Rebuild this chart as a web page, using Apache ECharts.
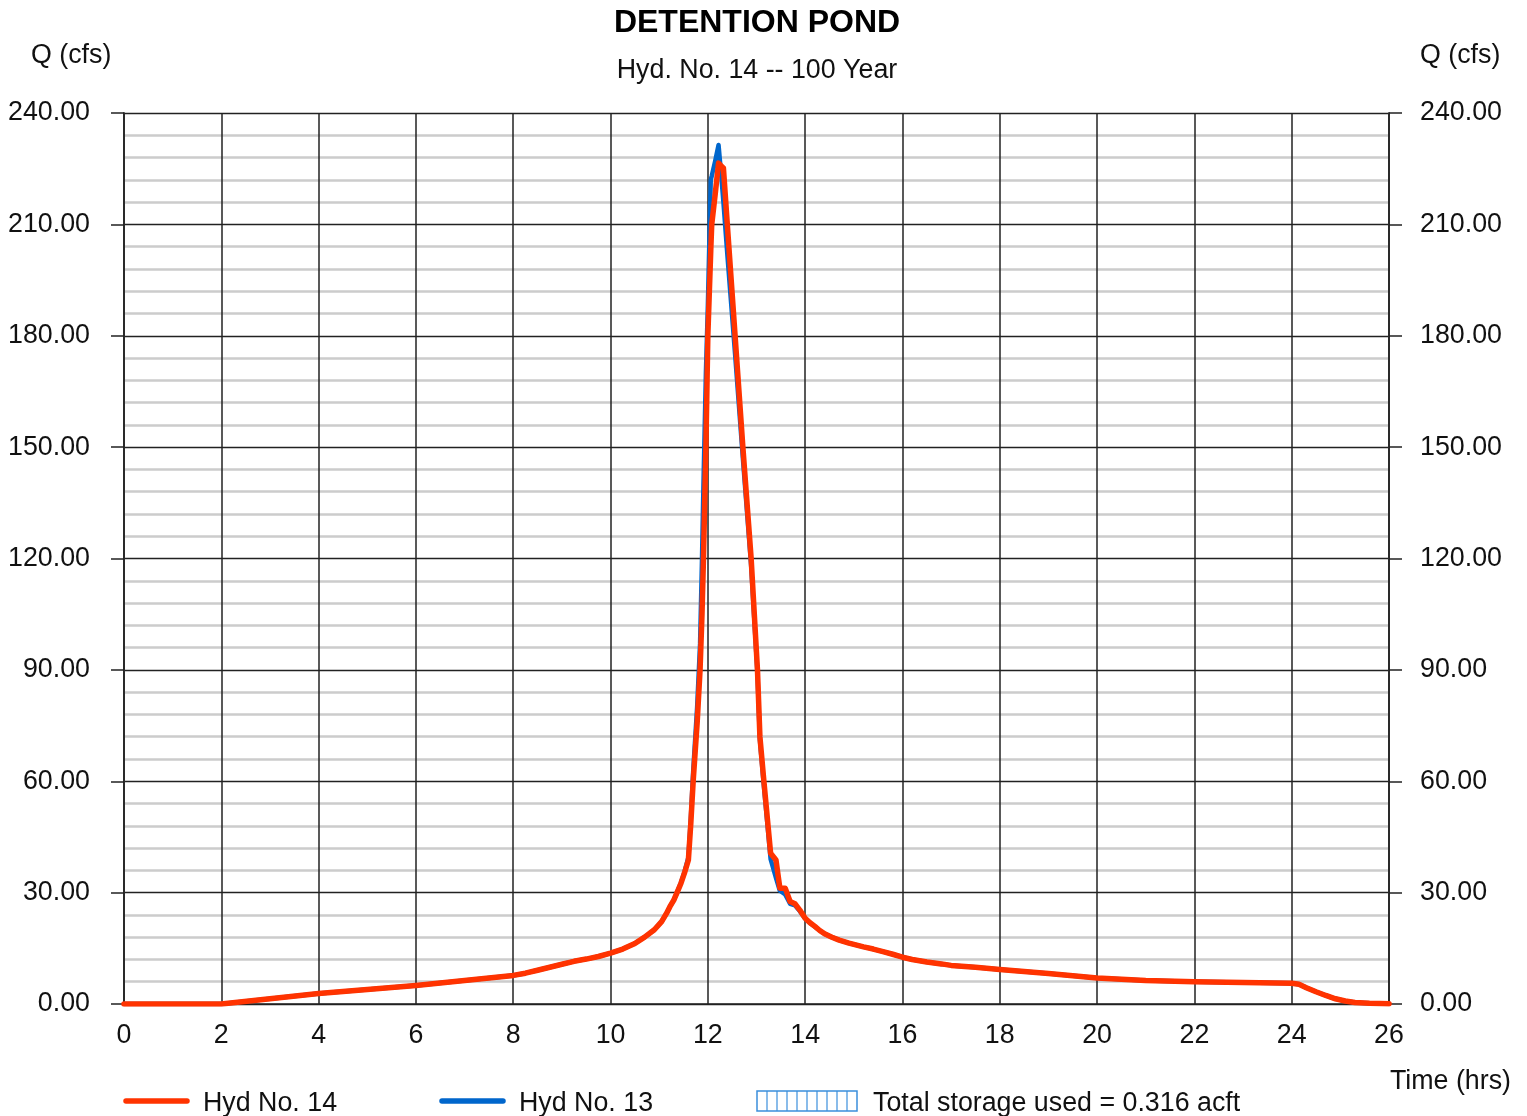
<!DOCTYPE html>
<html>
<head>
<meta charset="utf-8">
<script src="https://cdn.jsdelivr.net/npm/echarts@6/dist/echarts.min.js"></script>
<style>
  html, body { margin: 0; padding: 0; background: #ffffff; }
  #chart { width: 1527px; height: 1116px; }
</style>
</head>
<body>
<div id="chart"></div>
<script>
// Time axis (hrs) shared by both hydrographs
const hours = [
  0, 2, 3, 4, 5, 6, 7, 8, 8.25, 8.5, 8.75, 9, 9.25, 9.5, 9.75, 10, 10.25, 10.5, 10.7, 10.9, 11.05, 11.15,
  11.22, 11.3, 11.38, 11.45, 11.52, 11.6, 11.65, 11.7,
  11.78, 11.84, 11.88, 11.91, 11.96, 12.0, 12.06, 12.08, 12.15, 12.22, 12.27, 12.32, 12.4, 12.56, 12.72, 12.89,
  13.02, 13.07, 13.15, 13.29, 13.4, 13.48, 13.59, 13.69, 13.79, 13.89, 14.0, 14.1, 14.2, 14.3, 14.4, 14.55, 14.7,
  14.9, 15.2, 15.4, 15.6, 15.8, 16.0, 16.2, 16.5, 16.8, 17.0, 17.5, 18.0, 19.0, 20.0, 21.0, 22.0, 23.0, 24.0,
  24.15, 24.3, 24.5, 24.7, 24.9, 25.1, 25.3, 25.6, 26.0
];

// Hyd No. 14 - pond outflow (cfs)
const hyd14 = [
  0, 0, 1.4, 2.8, 3.9, 5.0, 6.3, 7.7, 8.3, 9.1, 9.9, 10.7, 11.5, 12.1, 12.8, 13.7, 14.8, 16.3, 18.0, 20.0, 22.2, 24.4,
  26.2, 28.0, 30.4, 32.6, 35.3, 38.8, 48.7, 60.3,
  75.7, 90.0, 105.0, 120.0, 150.0, 180.0, 203.0, 210.0, 218.0, 226.5, 225.8, 225.2, 210.0, 180.0, 150.0, 120.0,
  90.0, 72.0, 60.3, 40.6, 38.8, 31.2, 31.2, 27.6, 27.0, 25.3, 23.1, 21.9, 20.9, 19.8, 18.9, 18.0, 17.2,
  16.4, 15.4, 14.8, 14.1, 13.4, 12.6, 12.0, 11.3, 10.8, 10.4, 9.9, 9.3, 8.2, 7.0, 6.3, 6.0, 5.8, 5.6,
  5.3, 4.4, 3.3, 2.3, 1.4, 0.8, 0.4, 0.2, 0.1
];

// Hyd No. 13 - pond inflow (cfs)
const hyd13 = [
  0, 0, 1.4, 2.8, 3.9, 5.0, 6.3, 7.7, 8.3, 9.1, 9.9, 10.7, 11.5, 12.1, 12.8, 13.7, 14.8, 16.3, 18.0, 20.0, 22.2, 24.4,
  26.2, 28.0, 30.5, 32.8, 35.6, 39.5, 50.0, 63.0,
  80.0, 97.0, 120.0, 140.0, 170.0, 188.0, 222.0, 223.0, 227.0, 231.4, 224.0, 216.0, 202.0, 175.0, 147.0, 118.0,
  89.0, 71.0, 59.0, 39.0, 34.0, 30.5, 29.5, 27.0, 26.6, 25.0, 23.0, 21.8, 20.8, 19.8, 18.9, 18.0, 17.2,
  16.4, 15.4, 14.8, 14.1, 13.4, 12.6, 12.0, 11.3, 10.8, 10.4, 9.9, 9.3, 8.2, 7.0, 6.3, 6.0, 5.8, 5.6,
  5.3, 4.4, 3.3, 2.3, 1.4, 0.8, 0.4, 0.2, 0.1
];

const FONT = '"Liberation Sans", Arial, Helvetica, sans-serif';
const FS = 26.8;
const RED = '#ff3300';
const BLUE = '#0066cc';
const MAJOR = '#222222';
const MINOR = '#cccccc';
const INK = '#111111';

const pairs = (ys) => hours.map((t, i) => [t, ys[i]]);

const qAxis = (side) => ({
  type: 'value',
  position: side,
  min: 0,
  max: 240,
  interval: 30,
  axisLine: { show: true, onZero: false, lineStyle: { color: '#444444', width: 2 } },
  axisTick: { show: true, inside: false, length: 13, lineStyle: { color: MAJOR, width: 1.5 } },
  axisLabel: {
    show: true,
    margin: side === 'left' ? 34 : 31,
    fontSize: FS,
    fontFamily: FONT,
    color: INK,
    padding: [4, 0, 0, 0],
    formatter: (v) => v.toFixed(2)
  },
  minorTick: { show: false, splitNumber: 5 },
  minorSplitLine: { show: side === 'left', lineStyle: { color: MINOR, width: 2.5 } },
  splitLine: { show: side === 'left', lineStyle: { color: MAJOR, width: 1.3 } }
});

const label = (text, x, y, align, extra) => ({
  type: 'text', x: x, y: y + 3,
  style: Object.assign({
    text: text, font: FS + 'px ' + FONT, fill: INK,
    textAlign: align, textVerticalAlign: 'middle'
  }, extra || {})
});

const chart = echarts.init(document.getElementById('chart'), null, { renderer: 'canvas' });

chart.setOption({
  backgroundColor: '#ffffff',
  animation: false,
  grid: { left: 124, right: 138, top: 113, bottom: 112, containLabel: false },
  xAxis: {
    type: 'value',
    min: 0,
    max: 26,
    interval: 2,
    z: 1,
    axisLine: { show: true, onZero: false, lineStyle: { color: MAJOR, width: 1.5 } },
    axisTick: { show: false },
    axisLabel: { margin: 18, fontSize: FS, fontFamily: FONT, color: INK },
    splitLine: { show: true, lineStyle: { color: MAJOR, width: 1.5 } }
  },
  yAxis: [qAxis('left'), qAxis('right')],
  series: [
    {
      name: 'Hyd No. 13',
      type: 'line',
      data: pairs(hyd13),
      showSymbol: false,
      smooth: false,
      z: 3,
      lineStyle: { color: BLUE, width: 4.5, join: 'round' }
    },
    {
      name: 'Hyd No. 14',
      type: 'line',
      data: pairs(hyd14),
      showSymbol: false,
      smooth: false,
      z: 4,
      lineStyle: { color: RED, width: 5.5, join: 'round', cap: 'round' }
    }
  ],
  graphic: [
    label('DETENTION POND', 757, 20, 'center', { font: 'bold 32px ' + FONT, fill: '#000000' }),
    label('Hyd. No. 14 -- 100 Year', 757, 68, 'center'),
    label('Q (cfs)', 31, 53, 'left'),
    label('Q (cfs)', 1420, 53, 'left'),
    label('Time (hrs)', 1511, 1079, 'right'),
    // legend: Hyd No. 14
    { type: 'line', shape: { x1: 126, y1: 1101, x2: 187, y2: 1101 }, style: { stroke: RED, lineWidth: 5.5, lineCap: 'round' } },
    label('Hyd No. 14', 203, 1101, 'left'),
    // legend: Hyd No. 13
    { type: 'line', shape: { x1: 442, y1: 1101, x2: 503, y2: 1101 }, style: { stroke: BLUE, lineWidth: 5.5, lineCap: 'round' } },
    label('Hyd No. 13', 519, 1101, 'left'),
    // legend: storage hatch swatch
    {
      type: 'group',
      x: 757, y: 1091,
      children: [
        { type: 'rect', shape: { x: 0, y: 0, width: 100, height: 20 }, style: { fill: '#ffffff', stroke: '#3b8fdc', lineWidth: 1.5 } }
      ].concat(Array.from({ length: 9 }, (_, i) => ({
        type: 'line',
        shape: { x1: 10 * (i + 1), y1: 0, x2: 10 * (i + 1), y2: 20 },
        style: { stroke: '#3b8fdc', lineWidth: 1.2 }
      })))
    },
    label('Total storage used = 0.316 acft', 873, 1101, 'left')
  ]
});
</script>
</body>
</html>
